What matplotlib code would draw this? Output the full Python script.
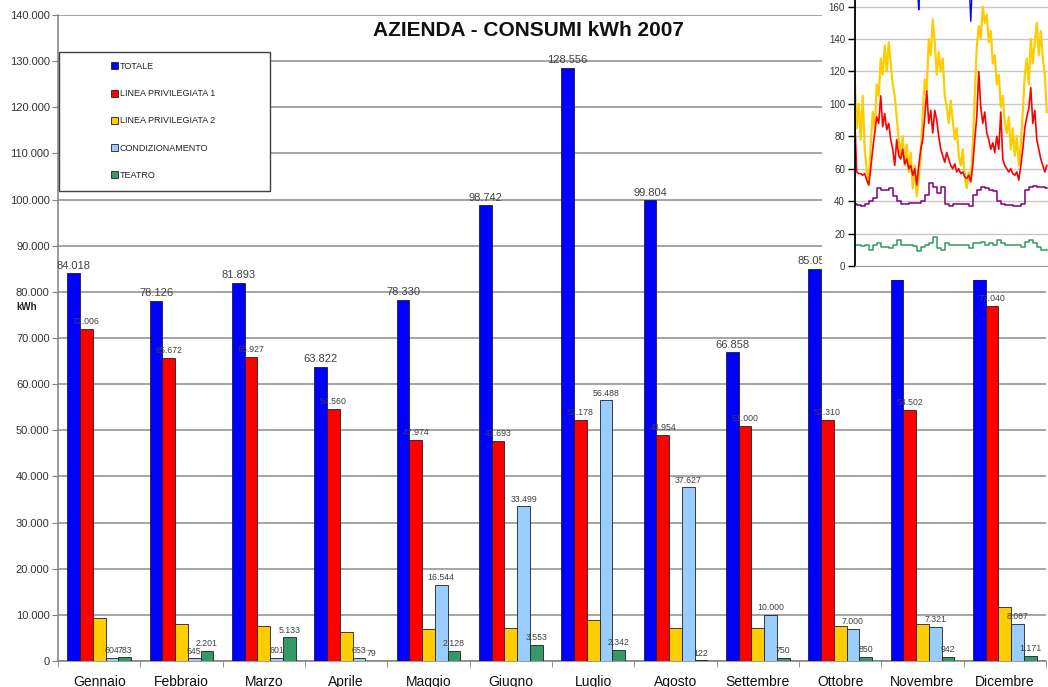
import matplotlib
matplotlib.use('Agg')
import matplotlib.pyplot as plt
import numpy as np
from matplotlib.patches import Rectangle

plt.rcParams['font.family'] = ['Liberation Sans', 'DejaVu Sans']

# --- main chart data (kWh) ---
months = ['Gennaio', 'Febbraio', 'Marzo', 'Aprile', 'Maggio', 'Giugno',
          'Luglio', 'Agosto', 'Settembre', 'Ottobre', 'Novembre', 'Dicembre']
totale = [84018, 78126, 81893, 63822, 78330, 98742, 128556, 99804, 66858, 85050, 88000, 104000]
linea1 = [72006, 65672, 65927, 54560, 47974, 47693, 52178, 48954, 51000, 52310, 54502, 77040]
linea2 = [9260, 7960, 7660, 6290, 6880, 7220, 8890, 7090, 7090, 7660, 7960, 11780]
condiz = [604, 545, 601, 653, 16544, 33499, 56488, 37627, 10000, 7000, 7321, 8087]
teatro = [783, 2201, 5133, 79, 2128, 3553, 2342, 122, 750, 850, 942, 1171]

series_names = ['TOTALE', 'LINEA PRIVILEGIATA 1', 'LINEA PRIVILEGIATA 2',
                'CONDIZIONAMENTO', 'TEATRO']
colors = ['#0000FF', '#FF0000', '#FFCC00', '#99CCFF', '#339966']

# --- inset chart data (pasted screenshot of a time series) ---
inset_yellow = [117, 85, 100, 78, 105, 72, 60, 50, 75, 95, 85, 112, 105, 128, 118, 136,
                120, 138, 125, 112, 105, 92, 78, 68, 80, 62, 75, 58, 70, 48, 62, 43,
                55, 68, 95, 115, 108, 140, 130, 152, 138, 118, 132, 120, 128, 105, 98, 88,
                102, 90, 78, 85, 68, 62, 72, 55, 48, 58, 52, 75, 105, 135, 148, 140,
                160, 150, 155, 138, 145, 125, 130, 112, 118, 98, 105, 88, 82, 92, 72, 85,
                68, 80, 62, 75, 95, 118, 128, 112, 140, 125, 138, 150, 130, 145, 128, 118, 95]
inset_red = [92, 58, 57, 57, 56, 57, 53, 50, 60, 72, 82, 92, 88, 105, 86, 94,
             84, 88, 78, 72, 62, 78, 68, 66, 72, 63, 66, 60, 62, 56, 60, 50,
             62, 72, 78, 92, 108, 88, 96, 82, 96, 90, 80, 72, 68, 64, 70, 66,
             62, 60, 63, 58, 60, 57, 58, 55, 54, 56, 52, 62, 78, 92, 120, 98,
             88, 95, 82, 78, 72, 76, 70, 80, 72, 95, 66, 62, 60, 58, 60, 57,
             56, 58, 53, 62, 72, 85, 92, 97, 110, 88, 96, 78, 72, 66, 62, 58, 62]
inset_purple = [38, 37.5, 37, 38, 40, 42, 48, 47, 47, 48, 43, 40, 38, 38, 39, 39,
                39, 40, 44, 51, 49, 45, 49, 38, 37, 38, 38, 38, 38, 37, 44, 47,
                49, 48, 47, 46, 40, 38, 37.5, 37.5, 37, 37, 38, 47, 49, 49.5, 49, 49, 48]
inset_green = [13, 13, 12.5, 13, 10, 13, 14, 12, 12, 11, 13, 16, 13, 13, 13, 12.5,
               9, 12, 13, 14, 18, 11, 10, 14, 13, 13, 13, 13, 13, 11, 14, 14,
               15, 13, 14, 13, 16, 14, 13, 13, 13, 13, 12, 15, 16, 14, 12, 10, 10]
inset_blue = [180, 180, 180, 180, 180, 180, 180, 180, 180, 180, 180, 180, 180, 180, 180, 180,
              180, 180, 180, 180, 180, 180, 180, 180, 180, 180, 180, 180, 180, 180, 180, 180,
              158, 180, 180, 180, 180, 180, 180, 180, 180, 180, 180, 180, 180, 180, 180, 180,
              180, 180, 180, 180, 180, 180, 180, 180, 180, 180, 151, 180, 180, 180, 180, 180,
              180, 180, 180, 180, 180, 180, 180, 180, 180, 180, 180, 180, 180, 180, 180, 180,
              180, 180, 180, 180, 180, 180, 180, 180, 180, 180, 180, 180, 180, 180, 180, 180, 180]


def fmt_it(v):
    return f"{v:,.0f}".replace(',', '.')


W, H = 1048, 687
fig = plt.figure(figsize=(W / 100, H / 100), dpi=100)
fig.patch.set_facecolor('white')

ax = fig.add_axes([58 / W, (H - 661) / H, (1046 - 58) / W, (661 - 15) / H])
x = np.arange(len(months))
bw = 0.155
all_series = [totale, linea1, linea2, condiz, teatro]
containers = []
for k, (vals, col) in enumerate(zip(all_series, colors)):
    bc = ax.bar(x + (k - 2) * bw, vals, bw, color=col, edgecolor='#202020',
                linewidth=0.6, zorder=3, label=series_names[k])
    containers.append(bc)

# value labels
ax.bar_label(containers[0], labels=[fmt_it(v) for v in totale], padding=2,
             fontsize=8, color='#404040', zorder=4)
for k in (1, 3, 4):
    ax.bar_label(containers[k], labels=[fmt_it(v) for v in all_series[k]], padding=2,
                 fontsize=6.3, color='#404040', zorder=4)

ax.set_xlim(-0.5, 11.5)
ax.set_ylim(0, 140000)
ax.set_yticks(np.arange(0, 140001, 10000))
ax.set_yticklabels([fmt_it(v) for v in np.arange(0, 140001, 10000)], fontsize=8, color='#333333')
ax.set_xticks(x)
ax.set_xticklabels(months, fontsize=10, color='#111111', va='baseline')
ax.set_xticks(np.arange(-0.5, 12, 1), minor=True)
ax.tick_params(axis='x', which='major', length=0, pad=18)
ax.tick_params(axis='x', which='minor', length=4, color='#808080', direction='out')
ax.tick_params(axis='y', length=4, color='#808080', direction='out', pad=2)
ax.yaxis.grid(True, color='#8c8c8c', linewidth=1.1, zorder=0)
ax.set_axisbelow(True)
for s in ('top', 'right'):
    ax.spines[s].set_visible(False)
ax.spines['left'].set_color('#808080')
ax.spines['bottom'].set_color('#808080')
ax.spines['left'].set_linewidth(1.1)
ax.spines['bottom'].set_linewidth(1.1)

fig.text(528 / W, 1 - 30 / H, 'AZIENDA - CONSUMI kWh 2007', ha='center', va='center',
         fontsize=15, fontweight='bold', color='#111111')
fig.text(16 / W, 1 - 307 / H, 'kWh', ha='left', va='center', fontsize=7,
         fontweight='bold', color='#222222')

# legend box
fig.add_artist(Rectangle((59 / W, 1 - 191 / H), (270 - 59) / W, (191 - 52) / H,
                         transform=fig.transFigure, facecolor='white',
                         edgecolor='#404040', linewidth=1.0, zorder=1))
leg = fig.legend(handles=containers, labels=series_names, loc='upper left',
                 bbox_to_anchor=(106 / W, 1 - 57.5 / H), bbox_transform=fig.transFigure,
                 frameon=False, fontsize=6.5, handlelength=0.8, handleheight=0.8,
                 handletextpad=0.2, labelspacing=2.02, borderpad=0)
leg.set_zorder(5)
for t in leg.get_texts():
    t.set_color('#222222')

# pasted inset chart
fig.add_artist(Rectangle((822 / W, 1 - 280 / H), (W - 822) / W, 280 / H,
                         transform=fig.transFigure, facecolor='white',
                         edgecolor='none', zorder=1.5))
ins = fig.add_axes([854.7 / W, (H - 266) / H, (W - 854.7) / W, 266 / H])
ins.set_zorder(2)
ins.patch.set_alpha(0)
xi = np.arange(len(inset_yellow))
xi2 = np.arange(len(inset_purple)) * 2
ins.plot(xi, inset_blue, color='#0000FF', linewidth=1.0)
ins.plot(xi, inset_yellow, color='#FFCC00', linewidth=1.6)
ins.plot(xi, inset_red, color='#FF0000', linewidth=1.2)
ins.plot(xi2, inset_purple, color='#800080', linewidth=1.1, drawstyle='steps-mid')
ins.plot(xi2, inset_green, color='#339966', linewidth=1.1, drawstyle='steps-mid')
ins.set_xlim(0, 96.6)
ins.set_ylim(0, 164.1)
ins.set_yticks(np.arange(0, 161, 20))
ins.tick_params(axis='y', labelsize=7, colors='#333333', length=5, width=1, pad=2)
ins.tick_params(axis='y', color='#000000')
ins.set_xticks([])
ins.yaxis.grid(True, color='#c8c8c8', linewidth=1.0)
ins.set_axisbelow(True)
for s in ('top', 'right'):
    ins.spines[s].set_visible(False)
ins.spines['left'].set_linewidth(1.3)
ins.spines['bottom'].set_color('#a0a0a0')

fig.savefig('out.png', dpi=100)
